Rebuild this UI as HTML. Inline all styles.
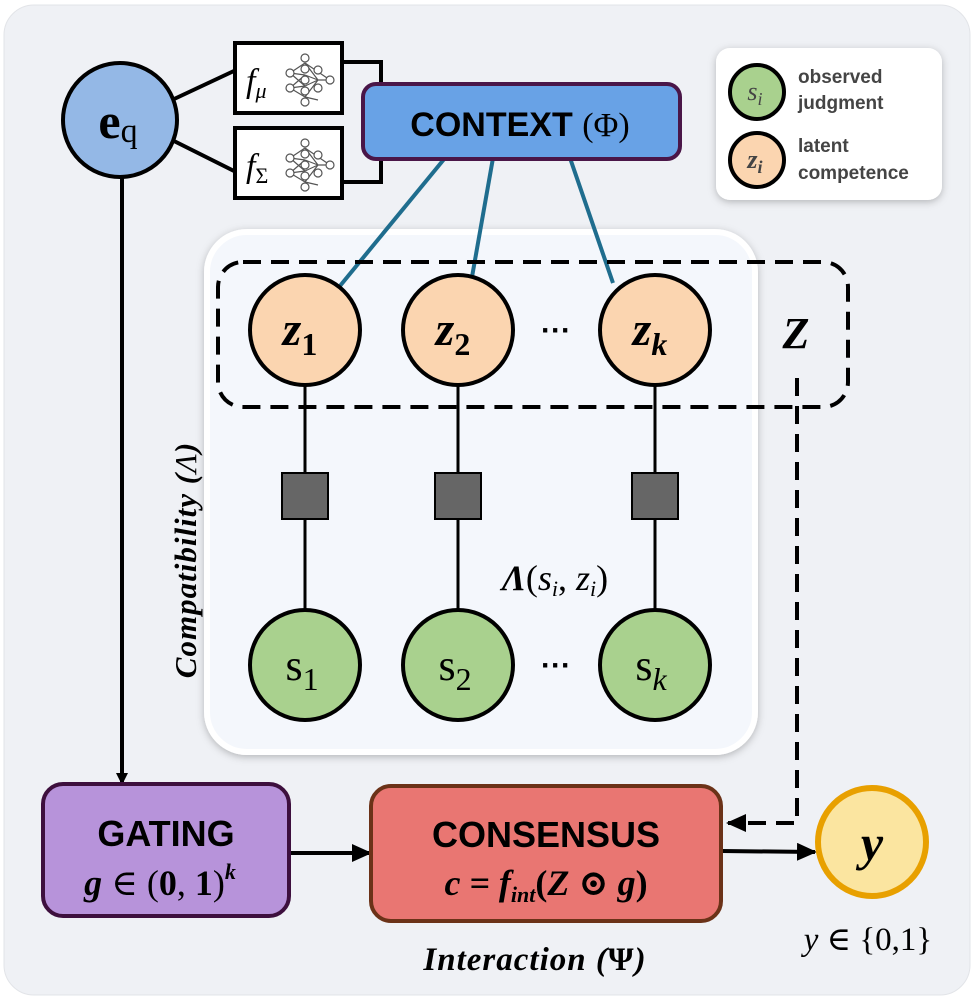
<!DOCTYPE html>
<html><head><meta charset="utf-8"><style>
html,body{margin:0;padding:0;background:#fff;}
svg{display:block;}
.serif{font-family:"Liberation Serif","DejaVu Serif",serif;}
.sans{font-family:"Liberation Sans","DejaVu Sans",sans-serif;}
.nar{font-family:"Liberation Sans Narrow","Liberation Sans","DejaVu Sans Condensed",sans-serif;}
</style></head><body>
<svg width="977" height="1001" viewBox="0 0 977 1001" xmlns="http://www.w3.org/2000/svg">
<defs>
<filter id="sh" x="-10%" y="-10%" width="120%" height="120%"><feDropShadow dx="0" dy="2" stdDeviation="4" flood-color="#000" flood-opacity="0.25"/></filter>
<marker id="ah" markerWidth="12" markerHeight="12" refX="11" refY="6" orient="auto" markerUnits="userSpaceOnUse"><path d="M0,0 L12,6 L0,12 z" fill="#000"/></marker>
<marker id="ahb" markerWidth="20" markerHeight="18" refX="18" refY="9" orient="auto" markerUnits="userSpaceOnUse"><path d="M0,0 L20,9 L0,18 z" fill="#000"/></marker>
</defs>
<rect x="4" y="5" width="966" height="990" rx="30" fill="#eff1f5" stroke="#e2e4e8"/>

<rect x="207" y="232" width="548" height="520" rx="40" fill="#f4f7fc" stroke="#fff" stroke-width="6" filter="url(#sh)"/>

<rect x="716" y="48" width="226" height="152" rx="14" fill="#fff" filter="url(#sh)"/>
<circle cx="757" cy="92" r="27" fill="#a9d18e" stroke="#000" stroke-width="4"/>
<text x="755" y="100" text-anchor="middle" class="serif" font-style="italic" font-size="26" fill="#444">s<tspan font-size="18" dy="5">i</tspan></text>
<circle cx="757" cy="160" r="27" fill="#fbd5b0" stroke="#000" stroke-width="4"/>
<text x="755" y="168" text-anchor="middle" class="serif" font-style="italic" font-weight="bold" font-size="26" fill="#444">z<tspan font-size="18" dy="5">i</tspan></text>
<text class="sans" font-weight="bold" font-size="19" fill="#444"><tspan x="798" y="83">observed</tspan><tspan x="798" y="109">judgment</tspan><tspan x="798" y="152">latent</tspan><tspan x="798" y="179">competence</tspan></text>

<line x1="172" y1="100" x2="236" y2="70" stroke="#000" stroke-width="4"/>
<line x1="172" y1="140" x2="236" y2="172" stroke="#000" stroke-width="4"/>
<polyline points="343,62 381,62 381,90" fill="none" stroke="#000" stroke-width="4"/>
<polyline points="343,182 381,182 381,155" fill="none" stroke="#000" stroke-width="4"/>
<line x1="122" y1="175" x2="122" y2="784" stroke="#000" stroke-width="4" marker-end="url(#ah)"/>
<circle cx="120" cy="120" r="57" fill="#94b8e6" stroke="#000" stroke-width="4"/>
<text x="118" y="138" text-anchor="middle" class="serif" font-weight="bold" font-size="50">e<tspan font-weight="normal" font-size="34" dy="4">q</tspan></text>

<rect x="235" y="43" width="107" height="70" fill="#fff" stroke="#000" stroke-width="4"/>
<rect x="235" y="128" width="107" height="70" fill="#fff" stroke="#000" stroke-width="4"/>
<text x="246" y="92" class="serif" font-style="italic" font-size="34">f<tspan font-size="22" dy="6">μ</tspan></text>
<text x="246" y="177" class="serif" font-style="italic" font-size="34">f<tspan font-size="22" dy="6" font-style="normal">Σ</tspan></text>
<g id="nn" fill="#fff" stroke="#555" stroke-width="1.2">
<path d="M290,73L305,63M290,73L305,75M290,73L305,86M290,88L305,75M290,88L305,86M290,88L305,97M305,63L318,80M305,75L318,80M305,86L318,80M305,97L318,80M305,63L330,80M318,80L330,80M305,97L318,100" fill="none"/>
<circle cx="290" cy="73" r="4"/><circle cx="290" cy="88" r="4"/>
<circle cx="305" cy="58" r="4"/><circle cx="305" cy="69" r="4"/><circle cx="305" cy="80" r="4"/><circle cx="305" cy="91" r="4"/><circle cx="305" cy="102" r="4"/>
<circle cx="318" cy="70" r="4"/><circle cx="318" cy="88" r="4"/><circle cx="330" cy="80" r="4"/>
</g>
<use href="#nn" transform="translate(0,85)"/>

<line x1="445" y1="158" x2="335" y2="292" stroke="#1f6d8e" stroke-width="4"/>
<line x1="493" y1="158" x2="472" y2="277" stroke="#1f6d8e" stroke-width="4"/>
<line x1="570" y1="158" x2="613" y2="283" stroke="#1f6d8e" stroke-width="4"/>
<rect x="363" y="84" width="317" height="75" rx="13" fill="#68a2e6" stroke="#4a1648" stroke-width="4"/>
<text x="520" y="136" text-anchor="middle" class="nar" font-weight="bold" font-size="34">CONTEXT <tspan class="serif" font-weight="normal">(Φ)</tspan></text>

<g stroke="#000" stroke-width="3">
<line x1="305" y1="380" x2="305" y2="615"/><line x1="458" y1="380" x2="458" y2="615"/><line x1="655" y1="380" x2="655" y2="615"/>
</g>
<g fill="#666" stroke="#000" stroke-width="2">
<rect x="282" y="473" width="46" height="46"/><rect x="435" y="473" width="46" height="46"/><rect x="632" y="473" width="46" height="46"/>
</g>

<g fill="#fbd5b0" stroke="#000" stroke-width="4">
<circle cx="305" cy="330" r="55"/><circle cx="458" cy="330" r="55"/><circle cx="655" cy="330" r="55"/>
</g>
<g class="serif" font-style="italic" font-weight="bold" font-size="48" text-anchor="middle">
<text x="300" y="345">z<tspan font-size="32" dy="10" font-style="normal">1</tspan></text>
<text x="453" y="345">z<tspan font-size="32" dy="10" font-style="normal">2</tspan></text>
<text x="650" y="345">z<tspan font-size="32" dy="10">k</tspan></text>
</g>
<text x="556" y="340" text-anchor="middle" class="sans" font-weight="bold" font-size="30">···</text>

<g fill="#a9d18e" stroke="#000" stroke-width="4">
<circle cx="305" cy="665" r="55"/><circle cx="458" cy="665" r="55"/><circle cx="655" cy="665" r="55"/>
</g>
<g class="serif" font-size="44" text-anchor="middle">
<text x="302" y="680">s<tspan font-size="32" dy="10">1</tspan></text>
<text x="455" y="680">s<tspan font-size="32" dy="10">2</tspan></text>
<text x="651" y="680">s<tspan font-size="32" dy="10" font-style="italic">k</tspan></text>
</g>
<text x="556" y="675" text-anchor="middle" class="sans" font-weight="bold" font-size="30">···</text>

<text x="555" y="590" text-anchor="middle" class="serif" font-size="36"><tspan font-style="italic" font-weight="bold">Λ</tspan>(<tspan font-style="italic">s</tspan><tspan font-size="22" dy="6" font-style="italic">i</tspan><tspan dy="-6">, </tspan><tspan font-style="italic">z</tspan><tspan font-size="22" dy="6" font-style="italic">i</tspan><tspan dy="-6">)</tspan></text>

<text transform="translate(196,560) rotate(-90)" text-anchor="middle" class="serif" font-style="italic" font-weight="bold" font-size="31" letter-spacing="1">Compatibility (<tspan font-weight="normal">Λ</tspan>)</text>

<rect x="218" y="262" width="630" height="145" rx="25" fill="none" stroke="#000" stroke-width="4" stroke-dasharray="18,10"/>
<text x="796" y="348" text-anchor="middle" class="serif" font-style="italic" font-weight="bold" font-size="44">Z</text>
<polyline points="797,378 797,823 728,823" fill="none" stroke="#000" stroke-width="4" stroke-dasharray="18,10" marker-end="url(#ahb)"/>

<line x1="290" y1="853" x2="370" y2="853" stroke="#000" stroke-width="4" marker-end="url(#ahb)"/>
<line x1="722" y1="851" x2="815" y2="852" stroke="#000" stroke-width="4" marker-end="url(#ahb)"/>
<rect x="43" y="784" width="246" height="132" rx="20" fill="#b793da" stroke="#3d0f3d" stroke-width="4"/>
<text x="166" y="846" text-anchor="middle" class="nar" font-weight="bold" font-size="36">GATING</text>
<text x="160" y="895" text-anchor="middle" class="serif" font-size="36"><tspan font-style="italic" font-weight="bold">g</tspan> ∈ (<tspan font-weight="bold">0</tspan>, <tspan font-weight="bold">1</tspan>)<tspan font-size="22" dy="-16" font-style="italic" font-weight="bold">k</tspan></text>

<rect x="371" y="786" width="350" height="135" rx="20" fill="#e97672" stroke="#6b3218" stroke-width="4"/>
<text x="546" y="847" text-anchor="middle" class="nar" font-weight="bold" font-size="36">CONSENSUS</text>
<text x="546" y="895" text-anchor="middle" class="serif" font-size="36" font-weight="bold" font-style="italic">c = f<tspan font-size="22" dy="7">int</tspan><tspan dy="-7" font-style="normal">(</tspan>Z <tspan font-style="normal">⊙</tspan> g<tspan font-style="normal">)</tspan></text>

<circle cx="872" cy="842" r="54" fill="#fbe5a0" stroke="#e8a000" stroke-width="6"/>
<text x="872" y="860" text-anchor="middle" class="serif" font-style="italic" font-weight="bold" font-size="50">y</text>
<text x="868" y="950" text-anchor="middle" class="serif" font-size="33"><tspan font-style="italic">y</tspan> ∈ {0,1}</text>
<text x="535" y="970" text-anchor="middle" class="serif" font-style="italic" font-weight="bold" font-size="33" letter-spacing="1">Interaction (<tspan font-style="normal">Ψ</tspan>)</text>
</svg>
</body></html>
